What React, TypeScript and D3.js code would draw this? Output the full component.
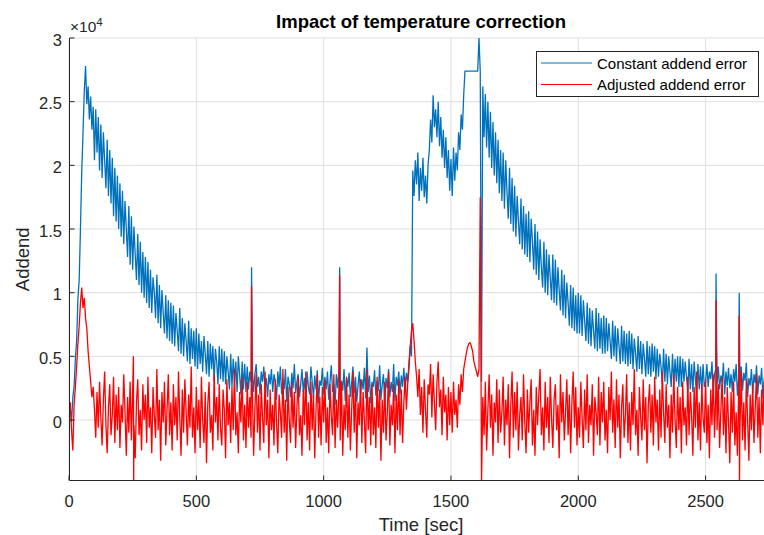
import React from "react";
import * as d3 from "d3";

const W = 764;
const H = 535;
const TIME_STEP = 5; // seconds between samples
const VALUE_UNIT = 100; // values below are stored in hundreds

// Constant addend error, one row = 100 s
const blueValues = [
  3, 10, -2, 18, 26, 48, 62, 95, 110, 150, 195, 225, 258, 278, 248, 262, 236, 254, 228, 246,
  204, 244, 210, 238, 196, 232, 190, 226, 204, 182, 220, 176, 212, 170, 206, 160, 198, 156, 192, 150,
  186, 144, 180, 138, 172, 150, 128, 168, 122, 160, 118, 152, 130, 110, 146, 106, 140, 100, 132, 96,
  128, 92, 124, 88, 118, 84, 112, 100, 80, 114, 76, 106, 72, 102, 84, 68, 98, 64, 94, 62,
  92, 60, 90, 58, 84, 70, 54, 88, 52, 80, 50, 76, 62, 46, 78, 44, 72, 48, 70, 42,
  72, 40, 68, 44, 62, 38, 66, 52, 36, 62, 34, 60, 40, 58, 30, 56, 46, 28, 58, 32,
  56, 30, 54, 28, 50, 38, 24, 52, 26, 48, 30, 46, 22, 50, 36, 20, 46, 24, 44, 22,
  42, 24, 38, 30, 40, 22, 36, 44, 26, 34, 20, 38, 30, 42, 24, 33, 18, 36, 28, 40,
  22, 36, 30, 16, 38, 26, 42, 20, 32, 24, 40, 14, 34, 28, 18, 37, 25, 44, 21, 30,
  36, 18, 28, 40, 22, 33, 15, 38, 26, 20, 42, 30, 17, 35, 24, 39, 13, 31, 27, 41,
  20, 34, 24, 38, 16, 30, 43, 22, 28, 12, 36, 25, 39, 19, 31, 23, 40, 15, 33, 26,
  37, 18, 29, 42, 21, 34, 14, 27, 38, 20, 32, 24, 41, 17, 57, 22, 35, 13, 30, 26,
  39, 19, 31, 23, 43, 16, 28, 36, 12, 33, 25, 40, 18, 30, 22, 44, 15, 34, 27, 38,
  20, 35, 26, 41, 23, 37, 30, 45, 58, 50, 196, 176, 204, 185, 210, 172, 198, 180, 206, 175,
  192, 170, 200, 212, 236, 218, 255, 230, 244, 222, 250, 215, 238, 206, 228, 198, 222, 190, 212, 180,
  205, 176, 214, 188, 210, 196, 226, 212, 240, 228, 255, 274, 274, 274, 274, 274, 274, 274, 274, 274,
  274, 274, 300, 274, 30, 262, 222, 256, 214, 250, 206, 242, 198, 234, 192, 226, 186, 220, 178, 212,
  172, 210, 166, 204, 180, 158, 198, 154, 190, 148, 184, 144, 176, 156, 138, 174, 134, 168, 130, 162,
  128, 164, 124, 158, 140, 118, 154, 114, 148, 110, 142, 120, 104, 140, 100, 134, 98, 130, 112, 94,
  130, 92, 126, 90, 120, 102, 86, 118, 82, 114, 80, 108, 92, 74, 106, 72, 104, 70, 98, 68,
  100, 68, 98, 66, 94, 78, 62, 92, 60, 88, 58, 86, 70, 56, 88, 54, 84, 56, 80, 52,
  82, 52, 80, 54, 76, 62, 48, 78, 50, 74, 46, 72, 58, 44, 74, 46, 70, 44, 68, 42,
  70, 44, 68, 40, 64, 52, 38, 66, 40, 62, 36, 60, 48, 34, 62, 36, 58, 34, 60, 38,
  58, 32, 56, 34, 52, 42, 28, 56, 30, 52, 28, 50, 38, 26, 52, 28, 48, 30, 50, 26,
  50, 26, 48, 30, 46, 34, 22, 48, 24, 44, 22, 46, 32, 20, 44, 24, 42, 22, 44, 26,
  30, 44, 26, 38, 32, 46, 22, 36, 40, 28, 42, 24, 35, 30, 45, 20, 38, 27, 41, 25,
  36, 22, 40, 30, 44, 19, 34, 26, 42, 23, 37, 31, 45, 18, 33, 27, 40, 21, 36, 29,
  43, 20, 35, 28, 41, 17, 32, 38, 24, 36, 30,
];

// Adjusted addend error, one row = 100 s
const redValues = [
  2, 14, -8, -24, 12, 26, 42, 60, 74, 92, 104, 88, 96, 80, 72, 54, 42, 30, 18, 26,
  8, -14, 22, -6, 30, 2, -20, 16, 38, -4, -26, 10, 28, -12, 4, 34, -18, 20, -8, 26,
  -22, 12, -2, 36, 6, -28, 18, -10, 30, -16, 24, -4, -30, 14, 32, -12, 8, -24, 28, 0,
  20, -18, 34, -6, 10, -26, 26, 4, -14, 40, -8, 16, -32, 22, -2, 30, -20, 8, 36, -12,
  14, -24, 28, -4, 18, -16, 38, 2, -28, 24, -10, 32, 6, -20, 20, -6, 42, -14, 10, -26,
  26, -8, 16, -22, 34, 0, -18, 22, -34, 12, 30, -10, 4, -24, 36, -2, 18, -16, 28, -6,
  -20, 24, 8, -30, 32, -4, 14, -18, 26, -8, 40, -12, 6, -26, 22, -2, 34, -16, 12, -22,
  30, -6, 18, -14, 26, -28, 8, 36, -10, 20, -24, 28, 2, -18, 38, -4, 16, -30, 24, -8,
  12, -20, 32, -2, -26, 20, 6, -14, 40, -10, 16, -32, 26, 0, -18, 30, -6, 22, -22, 10,
  34, -12, 4, -28, 24, -4, 38, -16, 14, -24, 30, -8, 20, -30, 8, 36, -14, 18, -20, 26,
  -2, 32, -18, 10, -26, 28, 4, -12, 36, -22, 16, -6, 24, -16, 30, -28, 12, -8, 34, -14,
  20, -24, 8, 38, -10, 26, -30, 14, -4, 32, -18, 22, 0, -26, 40, -8, 18, -20, 28, -12,
  10, -22, 34, -6, 24, -32, 16, -10, 30, -16, 6, 38, -20, 12, -4, 28, -26, 20, -8, 32,
  -12, 24, -18, 14, 34, 8, 28, 40, 58, 70, 76, 62, 46, 34, 18, 40, 4, 26, -10, 32,
  8, -14, 28, 20, 44, 2, 36, 14, -8, 30, 46, 10, 24, -12, 34, 6, 20, -16, 26, -4,
  22, -10, 30, 4, 16, -6, 28, 12, 36, 22, 40, 46, 52, 57, 60, 61, 58, 54, 46, 42,
  38, 34, 40, 175, -50, 18, -12, 30, -24, 8, 36, -6, 20, -28, 14, -2, 32, -18, 24, -10,
  6, 34, -20, 16, -4, 28, -30, 12, 38, -14, 22, -8, 30, -24, 4, 18, -16, 36, -2, -26,
  24, -10, 14, 32, -20, 8, -28, 26, -4, 20, 40, -12, 10, -24, 30, -6, 18, -18, 34, 2,
  -22, 16, 28, -8, 12, -30, 36, -2, 22, -16, 6, 32, -12, 20, -26, 14, 38, -6, 26, -20,
  10, -14, 30, 2, -22, 24, -8, 36, -18, 12, -4, 28, -28, 18, 6, -12, 34, -20, 22, -2,
  30, -16, 8, -26, 26, 0, 38, -10, 16, -22, 32, -6, 20, -30, 10, 28, -14, 4, 36, -18,
  14, -24, 22, -4, 40, -12, 8, -28, 26, 2, -16, 32, -8, 18, -34, 12, 28, -10, 20, -20,
  34, -2, 16, -24, 24, -14, 38, 6, -18, 28, -6, 12, -30, 20, -10, 36, 0, -22, 26, -8,
  18, -26, 30, -4, 10, -20, 34, -12, 22, 4, -28, 26, -6, 38, -16, 14, -24, 28, 2, -10,
  32, -18, 12, -30, 24, -4, 36, -14, 20, -8, 28, -22, 8, 34, -12, 18, -26, 26, -2, -34,
  22, -10, 30, -20, 6, -28, 26, -6, 38, -16, 14, -24, 32, 0, -32, 20, -8, 28, -18, 10,
  36, -14, 18, -26, 24, -4, 30, -20, 8, -30, 26,
];

const blueSpikeTimes = [717, 1063, 2541, 2632];
const blueSpikeValues = [120, 120, 115, 100];
const redSpikeTimes = [253, 254, 717, 1063, 2541, 2632, 2633];
const redSpikeValues = [50, -50, 105, 114, 94, 82, -50];

const xTicks = [0, 500, 1000, 1500, 2000, 2500];
const xTickLabels = ["0", "500", "1000", "1500", "2000", "2500"];
const yTicks = [0, 5000, 10000, 15000, 20000, 25000, 30000];
const yTickLabels = ["0", "0.5", "1", "1.5", "2", "2.5", "3"];

const seriesNames = ["Constant addend error", "Adjusted addend error"];
const seriesColors = ["#0072BD", "#FF0000"];

function buildSeries(values: number[], spikeT: number[], spikeV: number[]) {
  const pts: [number, number][] = values.map((v, i) => [i * TIME_STEP, v * VALUE_UNIT]);
  spikeT.forEach((t, i) => pts.push([t, spikeV[i] * VALUE_UNIT]));
  pts.sort((a, b) => a[0] - b[0]);
  return pts;
}

const FONT = "'Liberation Sans', Arial, Helvetica, sans-serif";
const TXT = "#262626";

export default function App() {
  const left = 69.5;
  const top = 38;
  const bottom = 480.5;
  const x = d3.scaleLinear().domain([0, 2750]).range([69, 69 + 2750 * 0.25464]);
  const y = d3.scaleLinear().domain([-4750, 30000]).range([bottom, top]);
  const right = x(2750);

  const line = d3
    .line<[number, number]>()
    .x((d) => x(d[0]))
    .y((d) => y(d[1]));

  const blue = buildSeries(blueValues, blueSpikeTimes, blueSpikeValues);
  const red = buildSeries(redValues, redSpikeTimes, redSpikeValues);

  return (
    <svg
      width={W}
      height={H}
      style={{ position: "absolute", left: 0, top: 0, background: "#fff" }}
      fontFamily={FONT}
    >
      <defs>
        <clipPath id="plotclip">
          <rect x={left} y={top} width={right - left} height={bottom - top} />
        </clipPath>
      </defs>
      <rect x={0} y={0} width={W} height={H} fill="#fff" />
      {xTicks.map((t) => (
        <line key={"gx" + t} x1={x(t)} x2={x(t)} y1={top} y2={bottom} stroke="#dfdfdf" strokeWidth={1} />
      ))}
      {yTicks.map((t) => (
        <line key={"gy" + t} x1={left} x2={right} y1={y(t)} y2={y(t)} stroke="#dfdfdf" strokeWidth={1} />
      ))}
      <g clipPath="url(#plotclip)">
        <path d={line(blue) || ""} fill="none" stroke={seriesColors[0]} strokeWidth={1.3} strokeLinejoin="bevel" />
        <path d={line(red) || ""} fill="none" stroke={seriesColors[1]} strokeWidth={1.3} strokeLinejoin="bevel" />
      </g>
      <line x1={left} x2={left} y1={top} y2={bottom} stroke={TXT} strokeWidth={1} />
      <line x1={left} x2={right} y1={bottom} y2={bottom} stroke={TXT} strokeWidth={1} />
      {xTicks.map((t, i) => (
        <g key={"xt" + t}>
          <line x1={x(t)} x2={x(t)} y1={bottom} y2={bottom - 5} stroke={TXT} strokeWidth={1} />
          <text x={x(t)} y={507} textAnchor="middle" fontSize={16.5} fill={TXT}>
            {xTickLabels[i]}
          </text>
        </g>
      ))}
      {yTicks.map((t, i) => (
        <g key={"yt" + t}>
          <line x1={left} x2={left + 5} y1={y(t)} y2={y(t)} stroke={TXT} strokeWidth={1} />
          <text x={62} y={y(t) + 7.5} textAnchor="end" fontSize={16.5} fill={TXT}>
            {yTickLabels[i]}
          </text>
        </g>
      ))}
      <text x={70} y={32} fontSize={15.5} fill={TXT}>
        ×10
        <tspan dy={-6} fontSize={11.5}>4</tspan>
      </text>
      <text x={421} y={531} textAnchor="middle" fontSize={18.5} fill={TXT}>
        Time [sec]
      </text>
      <text
        transform={`translate(28.5,${(top + bottom) / 2}) rotate(-90)`}
        textAnchor="middle"
        fontSize={18.5}
        fill={TXT}
      >
        Addend
      </text>
      <text x={421} y={27.5} textAnchor="middle" fontSize={18.5} fontWeight="bold" fill="#000">
        Impact of temperature correction
      </text>
      <g>
        <rect x={536.5} y={51.5} width={222} height={45} fill="#fff" stroke={TXT} strokeWidth={1} />
        {seriesNames.map((name, i) => (
          <g key={name}>
            <line
              x1={541}
              x2={592}
              y1={63 + i * 21.5}
              y2={63 + i * 21.5}
              stroke={seriesColors[i]}
              strokeWidth={1}
            />
            <text x={597} y={63 + i * 21.5 + 5.5} fontSize={15} fill="#000">
              {name}
            </text>
          </g>
        ))}
      </g>
    </svg>
  );
}
